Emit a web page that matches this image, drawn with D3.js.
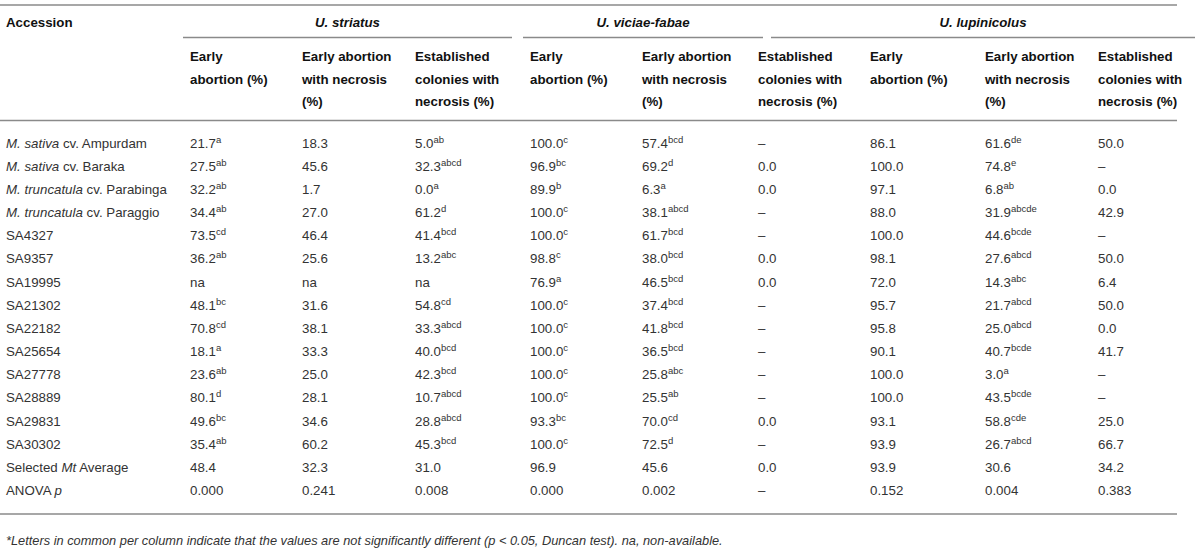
<!DOCTYPE html>
<html>
<head>
<meta charset="utf-8">
<script src="https://cdn.jsdelivr.net/npm/d3@7"></script>
<style>
body { margin: 0; background: #fff; }
svg text { font-family: "Liberation Sans", Arial, sans-serif; }
</style>
</head>
<body>
<div id="chart_div"></div>
<script>
var page_width = 1200;
var page_height = 558;

// Row labels; text between * is italic
var accessions = [
    "*M. sativa* cv. Ampurdam",
    "*M. sativa* cv. Baraka",
    "*M. truncatula* cv. Parabinga",
    "*M. truncatula* cv. Paraggio",
    "SA4327", "SA9357", "SA19995", "SA21302", "SA22182",
    "SA25654", "SA27778", "SA28889", "SA29831", "SA30302",
    "Selected *Mt* Average",
    "ANOVA *p*"
];

var species = ["U. striatus", "U. viciae-fabae", "U. lupinicolus"];

var column_titles = [
    ["Early", "abortion (%)"],
    ["Early abortion", "with necrosis", "(%)"],
    ["Established", "colonies with", "necrosis (%)"]
];

// each cell: "value|letters"
var striatus_early = ["21.7|a", "27.5|ab", "32.2|ab", "34.4|ab", "73.5|cd", "36.2|ab", "na", "48.1|bc",
    "70.8|cd", "18.1|a", "23.6|ab", "80.1|d", "49.6|bc", "35.4|ab", "48.4", "0.000"];
var striatus_necrosis = ["18.3", "45.6", "1.7", "27.0", "46.4", "25.6", "na", "31.6",
    "38.1", "33.3", "25.0", "28.1", "34.6", "60.2", "32.3", "0.241"];
var striatus_colonies = ["5.0|ab", "32.3|abcd", "0.0|a", "61.2|d", "41.4|bcd", "13.2|abc", "na", "54.8|cd",
    "33.3|abcd", "40.0|bcd", "42.3|bcd", "10.7|abcd", "28.8|abcd", "45.3|bcd", "31.0", "0.008"];

var viciae_early = ["100.0|c", "96.9|bc", "89.9|b", "100.0|c", "100.0|c", "98.8|c", "76.9|a", "100.0|c",
    "100.0|c", "100.0|c", "100.0|c", "100.0|c", "93.3|bc", "100.0|c", "96.9", "0.000"];
var viciae_necrosis = ["57.4|bcd", "69.2|d", "6.3|a", "38.1|abcd", "61.7|bcd", "38.0|bcd", "46.5|bcd", "37.4|bcd",
    "41.8|bcd", "36.5|bcd", "25.8|abc", "25.5|ab", "70.0|cd", "72.5|d", "45.6", "0.002"];
var viciae_colonies = ["–", "0.0", "0.0", "–", "–", "0.0", "0.0", "–",
    "–", "–", "–", "–", "0.0", "–", "0.0", "–"];

var lupini_early = ["86.1", "100.0", "97.1", "88.0", "100.0", "98.1", "72.0", "95.7",
    "95.8", "90.1", "100.0", "100.0", "93.1", "93.9", "93.9", "0.152"];
var lupini_necrosis = ["61.6|de", "74.8|e", "6.8|ab", "31.9|abcde", "44.6|bcde", "27.6|abcd", "14.3|abc", "21.7|abcd",
    "25.0|abcd", "40.7|bcde", "3.0|a", "43.5|bcde", "58.8|cde", "26.7|abcd", "30.6", "0.004"];
var lupini_colonies = ["50.0", "–", "0.0", "42.9", "–", "50.0", "6.4", "50.0",
    "0.0", "41.7", "–", "–", "25.0", "66.7", "34.2", "0.383"];

var columns = [striatus_early, striatus_necrosis, striatus_colonies,
    viciae_early, viciae_necrosis, viciae_colonies,
    lupini_early, lupini_necrosis, lupini_colonies];

var footnote = "*Letters in common per column indicate that the values are not significantly different (p < 0.05, Duncan test). na, non-available.";

var line_colour = "#8a8a8a";
var text_colour = "#333";

// column left edges
var col_x = d3.scaleOrdinal()
    .domain(d3.range(10))
    .range([6, 190, 302, 415, 530, 642, 758, 870, 985, 1098]);

var row_y = d3.scalePoint()
    .domain(d3.range(accessions.length))
    .range([147.5, 495]);

var svg = d3.select("#chart_div")
    .append("svg")
    .attr("width", page_width)
    .attr("height", page_height);

function add_line(x1, x2, y) {
    svg.append("line")
        .attr("x1", x1).attr("x2", x2)
        .attr("y1", y).attr("y2", y)
        .attr("stroke", line_colour)
        .attr("stroke-width", 1.5);
}

// horizontal rules
add_line(0, 1177, 5);
add_line(0, 1177, 120.5);
add_line(0, 1177, 514);

// group headers and their underlines
var group_spans = [[183, 512], [523, 763], [771, 1195]];
group_spans.forEach(function(span, i) {
    add_line(span[0], span[1], 37.5);
    svg.append("text")
        .attr("x", (span[0] + span[1]) / 2)
        .attr("y", 27)
        .attr("text-anchor", "middle")
        .attr("font-size", 13.3)
        .attr("font-weight", "bold")
        .attr("font-style", "italic")
        .attr("fill", "#111")
        .text(species[i]);
});

svg.append("text")
    .attr("x", col_x(0))
    .attr("y", 27)
    .attr("font-size", 13.3)
    .attr("font-weight", "bold")
    .attr("fill", "#111")
    .text("Accession");

// column sub headers
d3.range(9).forEach(function(c) {
    var lines = column_titles[c % 3];
    svg.append("g")
        .selectAll("text")
        .data(lines)
        .enter()
        .append("text")
        .attr("x", col_x(c + 1))
        .attr("y", function(d, i) { return 61 + i * 22.5; })
        .attr("font-size", 13.3)
        .attr("font-weight", "bold")
        .attr("fill", "#111")
        .text(function(d) { return d; });
});

// row labels with italic parts
var label_text = svg.append("g")
    .selectAll("text")
    .data(accessions)
    .enter()
    .append("text")
    .attr("x", col_x(0))
    .attr("y", function(d, i) { return row_y(i); })
    .attr("font-size", 13.3)
    .attr("fill", text_colour);

label_text.each(function(d) {
    var parts = d.split("*");
    var el = d3.select(this);
    parts.forEach(function(part, k) {
        if (part === "") { return; }
        el.append("tspan")
            .attr("font-style", k % 2 == 1 ? "italic" : "normal")
            .text(part);
    });
});

// cell values with superscript letters
columns.forEach(function(col, c) {
    var cells = svg.append("g")
        .selectAll("text")
        .data(col)
        .enter()
        .append("text")
        .attr("x", col_x(c + 1))
        .attr("y", function(d, i) { return row_y(i); })
        .attr("font-size", 13.3)
        .attr("fill", text_colour);

    cells.each(function(d) {
        var bits = d.split("|");
        var el = d3.select(this);
        el.append("tspan").text(bits[0]);
        if (bits.length > 1) {
            el.append("tspan")
                .attr("font-size", 9.5)
                .attr("dy", -5)
                .text(bits[1]);
        }
    });
});

svg.append("text")
    .attr("x", col_x(0))
    .attr("y", 545)
    .attr("font-size", 12.8)
    .attr("font-style", "italic")
    .attr("fill", text_colour)
    .text(footnote);
</script>
</body>
</html>
